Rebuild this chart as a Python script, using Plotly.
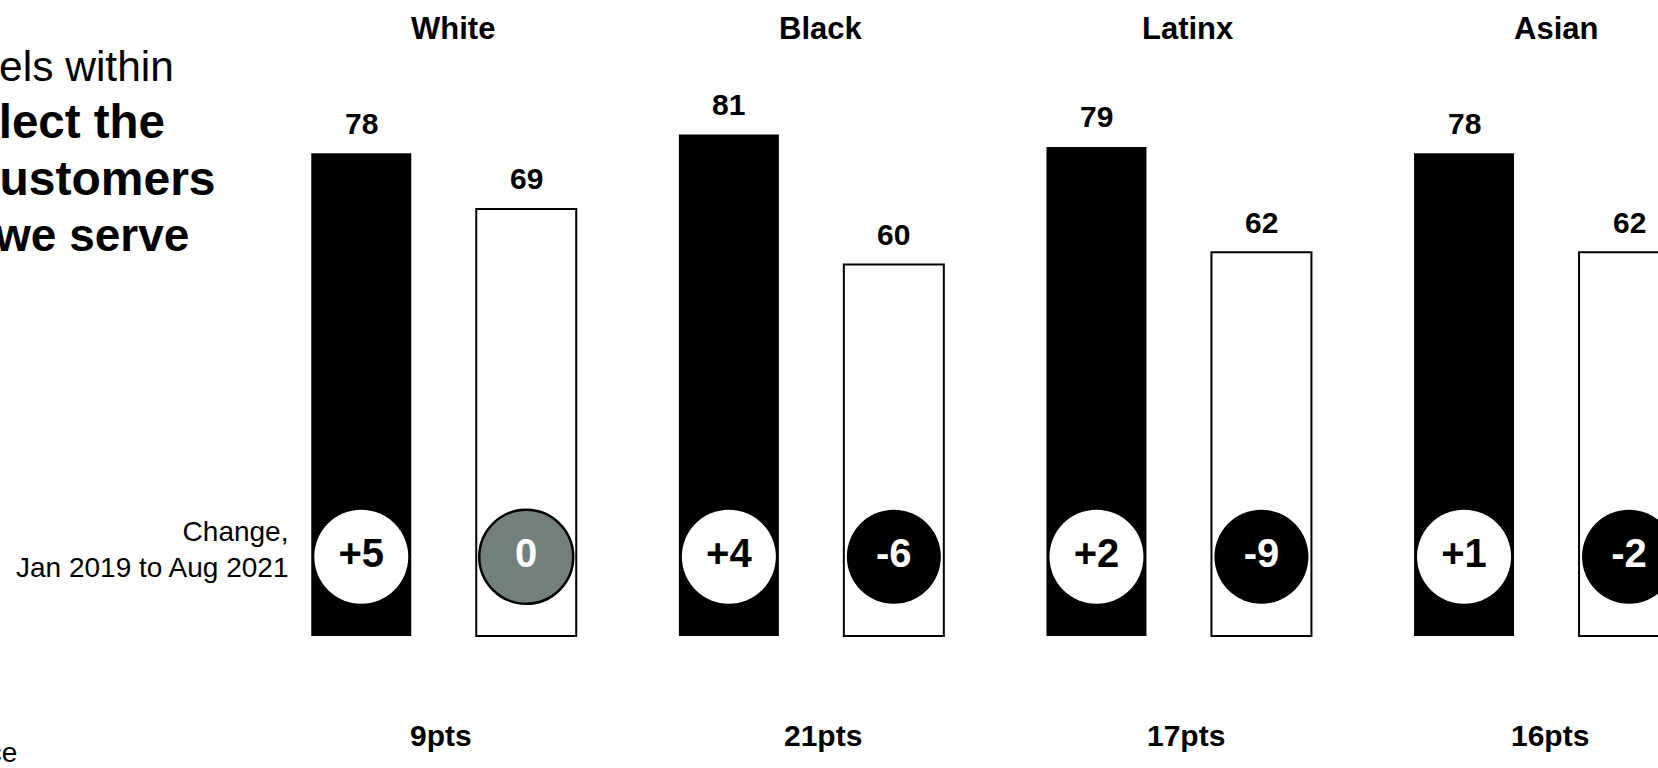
import plotly.graph_objects as go

# ---------------- data ----------------
groups = ["White", "Black", "Latinx", "Asian"]
series_a = [78, 81, 79, 78]        # solid black bars
series_b = [69, 60, 62, 62]        # outlined white bars
change_a = [5, 4, 2, 1]            # change, Jan 2019 to Aug 2021 (black bars)
change_b = [0, -6, -9, -2]         # change, Jan 2019 to Aug 2021 (outlined bars)
gap_labels = ["9pts", "21pts", "17pts", "16pts"]

# ---------------- style ----------------
FONT = "Liberation Sans, Arial, Helvetica, sans-serif"
W, H = 1658, 768
PX_PER_CAT = 367.6
CAT0_PX = 443.75
ZERO_PX = 636
PX_PER_UNIT = 6.19
X_RANGE = [-CAT0_PX / PX_PER_CAT, (W - CAT0_PX) / PX_PER_CAT]
Y_RANGE = [-(H - ZERO_PX) / PX_PER_UNIT, ZERO_PX / PX_PER_UNIT]
BAR_W = 0.272
OFF = 0.2244
CIRCLE_Y = 12.8
GREY = "#737f7c"
GAP_SHIFT = [-3, 12, 7, 3]


def px(x):
    return x / W


def py(y):
    return 1 - y / H


xs = list(range(len(groups)))

fig = go.Figure()
fig.add_trace(go.Bar(
    x=xs, y=series_a, width=BAR_W, offset=-OFF - BAR_W / 2,
    marker=dict(color="black", line=dict(width=0)),
    hoverinfo="skip", showlegend=False))
fig.add_trace(go.Bar(
    x=xs, y=series_b, width=BAR_W, offset=OFF - BAR_W / 2,
    marker=dict(color="white", line=dict(color="black", width=2)),
    hoverinfo="skip", showlegend=False))


def fmt(v):
    return "0" if v == 0 else f"{v:+d}"


def fill(v):
    return GREY if v == 0 else ("white" if v > 0 else "black")


def txtcol(v):
    return "black" if v > 0 else "white"


cx, ctext, cfill, ctc, clw = [], [], [], [], []
for i in xs:
    for dx, v in ((-OFF, change_a[i]), (OFF, change_b[i])):
        cx.append(i + dx)
        ctext.append(fmt(v))
        cfill.append(fill(v))
        ctc.append(txtcol(v))
        clw.append(2.5 if v == 0 else 0)

fig.add_trace(go.Scatter(
    x=cx, y=[CIRCLE_Y] * len(cx), mode="markers+text",
    text=ctext, textposition="middle center",
    textfont=dict(family=FONT, size=40, color=ctc, weight="bold"),
    marker=dict(size=94, color=cfill, line=dict(color="black", width=clw)),
    hoverinfo="skip", showlegend=False, cliponaxis=True))

ann = []
for i, g in enumerate(groups):
    # group title
    ann.append(dict(x=i, y=py(28), xref="x", yref="paper", text=g,
                    showarrow=False, xanchor="center", yanchor="middle", xshift=9,
                    font=dict(family=FONT, size=31, color="black", weight="bold")))
    # value labels
    for dx, v in ((-OFF, series_a[i]), (OFF, series_b[i])):
        ann.append(dict(x=i + dx, y=v, xref="x", yref="y", text=str(v),
                        showarrow=False, xanchor="center", yanchor="middle", yshift=30,
                        font=dict(family=FONT, size=30, color="black", weight="bold")))
    # gap label
    ann.append(dict(x=i, y=py(735), xref="x", yref="paper", text=gap_labels[i],
                    showarrow=False, xanchor="center", yanchor="middle",
                    xshift=GAP_SHIFT[i],
                    font=dict(family=FONT, size=30, color="black", weight="bold")))

# left-hand text (partly cut off by the page edge)
left_lines = [
    ("Improve satisfaction levels within", 176, 66, "normal", 42.5),
    ("all customer segments to reflect the", 167, 122, "bold", 47.5),
    ("diversity of the customers", 218, 179, "bold", 48),
    ("we serve", 191, 235, "bold", 46),
]
for t, x_, y_, wt, sz in left_lines:
    ann.append(dict(x=px(x_), y=py(y_), xref="paper", yref="paper", text=t,
                    showarrow=False, xanchor="right", yanchor="middle",
                    font=dict(family=FONT, size=sz, color="black", weight=wt)))

ann.append(dict(x=px(290), y=py(549), xref="paper", yref="paper",
                text="Change,<br>Jan 2019 to Aug 2021", align="right",
                showarrow=False, xanchor="right", yanchor="middle",
                font=dict(family=FONT, size=28, color="black")))
ann.append(dict(x=px(19), y=py(752), xref="paper", yref="paper",
                text="Gap in experience", showarrow=False,
                xanchor="right", yanchor="middle",
                font=dict(family=FONT, size=28, color="black")))

fig.update_layout(
    width=W, height=H, autosize=False,
    margin=dict(l=0, r=0, t=0, b=0, pad=0),
    paper_bgcolor="white", plot_bgcolor="white",
    barmode="overlay", showlegend=False,
    xaxis=dict(range=X_RANGE, visible=False, showgrid=False, zeroline=False, fixedrange=True),
    yaxis=dict(range=Y_RANGE, visible=False, showgrid=False, zeroline=False, fixedrange=True),
    annotations=ann,
)

fig.write_html(
    "out.html",
    config={"displayModeBar": False},
    post_script=("document.body.style.margin='0';"
                 "document.body.style.padding='0';"
                 "document.documentElement.style.overflow='hidden';"),
)
